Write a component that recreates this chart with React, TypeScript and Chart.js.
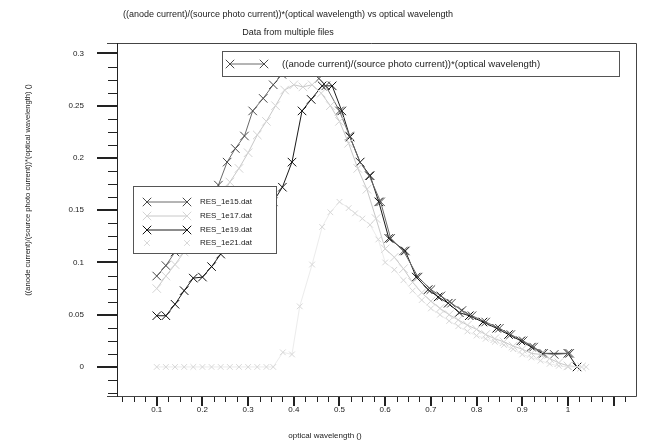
import React, { useEffect, useRef } from "react";
import { Chart, registerables } from "chart.js";
Chart.register(...registerables);

const TITLE = "((anode current)/(source photo current))*(optical wavelength) vs optical wavelength";
const SUBTITLE = "Data from multiple files";
const X_TITLE = "optical wavelength ()";
const Y_TITLE = "((anode current)/(source photo current))*(optical wavelength) ()";
const TOP_LEGEND = "((anode current)/(source photo current))*(optical wavelength)";
const SERIES_NAMES = ["RES_1e15.dat", "RES_1e17.dat", "RES_1e19.dat", "RES_1e21.dat"];

const X_MIN = 0.013;
const X_MAX = 1.149;
const Y_MIN = -0.0278;
const Y_MAX = 0.31;
const X_TICK_LABELS = [0.1, 0.2, 0.3, 0.4, 0.5, 0.6, 0.7, 0.8, 0.9, 1];
const Y_TICK_LABELS = [0, 0.05, 0.1, 0.15, 0.2, 0.25, 0.3];

const x15 = [0.10,0.12,0.14,0.16,0.18,0.20,0.22,0.235,0.254,0.272,0.292,0.31,0.333,0.355,0.374,0.395,0.415,0.435,0.455,0.47,0.5,0.522,0.545,0.565,0.59,0.612,0.64,0.672,0.70,0.722,0.745,0.768,0.79,0.82,0.85,0.875,0.902,0.925,0.947,0.97,1.004];
const y15 = [0.087,0.097,0.11,0.124,0.138,0.151,0.163,0.174,0.196,0.209,0.221,0.245,0.257,0.27,0.28,0.286,0.288,0.284,0.276,0.269,0.245,0.221,0.196,0.183,0.158,0.123,0.111,0.086,0.074,0.068,0.061,0.054,0.049,0.043,0.037,0.031,0.025,0.019,0.013,0.012,0.013];

const x17 = [0.10,0.12,0.14,0.16,0.18,0.20,0.22,0.24,0.26,0.28,0.30,0.32,0.34,0.36,0.38,0.40,0.42,0.44,0.46,0.48,0.50,0.52,0.54,0.56,0.58,0.60,0.62,0.64,0.66,0.68,0.70,0.72,0.74,0.76,0.78,0.80,0.82,0.84,0.86,0.88,0.90,0.92,0.94,0.96,0.98,1.00,1.03];
const y17 = [0.075,0.087,0.098,0.11,0.122,0.135,0.148,0.162,0.177,0.19,0.205,0.222,0.235,0.25,0.265,0.27,0.268,0.27,0.262,0.25,0.235,0.214,0.19,0.17,0.142,0.113,0.105,0.094,0.081,0.071,0.063,0.056,0.05,0.045,0.04,0.036,0.031,0.027,0.024,0.02,0.017,0.013,0.012,0.008,0.004,0.001,0.0];

const x19 = [0.10,0.12,0.14,0.16,0.18,0.20,0.22,0.24,0.26,0.28,0.30,0.32,0.34,0.355,0.375,0.396,0.418,0.438,0.462,0.484,0.505,0.523,0.545,0.567,0.586,0.608,0.644,0.668,0.694,0.716,0.738,0.762,0.784,0.814,0.844,0.87,0.897,0.92,0.943,1.0,1.02];
const y19 = [0.049,0.049,0.06,0.073,0.085,0.086,0.096,0.108,0.118,0.128,0.137,0.146,0.152,0.158,0.172,0.196,0.245,0.256,0.269,0.269,0.245,0.22,0.196,0.183,0.158,0.123,0.111,0.086,0.074,0.067,0.061,0.052,0.049,0.043,0.037,0.031,0.025,0.019,0.013,0.013,0.0];

const x21 = [0.10,0.12,0.14,0.16,0.18,0.20,0.22,0.24,0.26,0.28,0.30,0.32,0.34,0.355,0.376,0.396,0.413,0.44,0.462,0.48,0.50,0.52,0.534,0.55,0.567,0.585,0.60,0.62,0.64,0.66,0.68,0.70,0.72,0.74,0.76,0.78,0.80,0.82,0.84,0.86,0.88,0.90,0.92,0.94,0.96,0.98,1.00,1.04];
const y21 = [0,0,0,0,0,0,0,0,0,0,0,0,0,0.0,0.014,0.012,0.058,0.098,0.134,0.148,0.158,0.152,0.147,0.142,0.136,0.122,0.1,0.093,0.083,0.073,0.064,0.056,0.05,0.044,0.039,0.034,0.03,0.027,0.024,0.021,0.017,0.012,0.009,0.006,0.003,0.001,0.0,0.0];

const FONT = '"Liberation Sans", Arial, sans-serif';

const STYLES = [
  { line: "#6a6a6a", point: "#4a4a4a", radius: 6, lw: 1 },
  { line: "#c8c8c8", point: "#d4d4d4", radius: 6, lw: 1 },
  { line: "#1a1a1a", point: "#111111", radius: 6, lw: 1 },
  { line: "#ececec", point: "#d8d8d8", radius: 4, lw: 1 },
];

function pts(xs: number[], ys: number[]) {
  return xs.map((x, i) => ({ x, y: ys[i] }));
}

function drawX(ctx: CanvasRenderingContext2D, x: number, y: number, r: number, color: string) {
  const d = r * Math.SQRT1_2;
  ctx.strokeStyle = color;
  ctx.lineWidth = 1;
  ctx.beginPath();
  ctx.moveTo(x - d, y - d);
  ctx.lineTo(x + d, y + d);
  ctx.moveTo(x - d, y + d);
  ctx.lineTo(x + d, y - d);
  ctx.stroke();
}

const decor = {
  id: "decor",
  beforeDraw(chart: any) {
    const ctx = chart.ctx;
    ctx.save();
    ctx.fillStyle = "#fff";
    ctx.fillRect(0, 0, chart.width, chart.height);
    ctx.restore();
  },
  afterDatasetsDraw(chart: any) {
    const ctx: CanvasRenderingContext2D = chart.ctx;
    const { left, right, top, bottom } = chart.chartArea;
    const xs = chart.scales.x;
    const ys = chart.scales.y;
    ctx.save();

    // box
    ctx.strokeStyle = "#444";
    ctx.lineWidth = 1;
    ctx.beginPath();
    ctx.moveTo(left - 10, top + 0.5);
    ctx.lineTo(right + 0.5, top + 0.5);
    ctx.lineTo(right + 0.5, bottom + 0.5);
    ctx.lineTo(left - 10, bottom + 0.5);
    ctx.stroke();
    ctx.strokeStyle = "#222";
    ctx.beginPath();
    ctx.moveTo(left + 0.5, top);
    ctx.lineTo(left + 0.5, bottom + 1);
    ctx.stroke();

    // y ticks
    ctx.strokeStyle = "#222";
    for (let k = -2; k <= 25; k++) {
      const v = k * 0.0125;
      if (v < Y_MIN || v > Y_MAX) continue;
      const py = Math.round(ys.getPixelForValue(v));
      const major = k % 4 === 0;
      ctx.lineWidth = major ? 2 : 1;
      ctx.beginPath();
      ctx.moveTo(left - (major ? 20 : 9), py + (major ? 0 : 0.5));
      ctx.lineTo(left, py + (major ? 0 : 0.5));
      ctx.stroke();
    }
    ctx.fillStyle = "#222";
    ctx.font = "8px " + FONT;
    ctx.textAlign = "right";
    ctx.textBaseline = "middle";
    Y_TICK_LABELS.forEach((v) => {
      ctx.fillText(String(v), left - 33, ys.getPixelForValue(v));
    });

    // x ticks
    for (let k = 1; k <= 46; k++) {
      const v = k * 0.025;
      if (v < X_MIN || v > X_MAX) continue;
      const px = Math.round(xs.getPixelForValue(v));
      const major = k % 4 === 0;
      ctx.lineWidth = major ? 2 : 1;
      ctx.beginPath();
      ctx.moveTo(px + (major ? 0 : 0.5), bottom + 1);
      ctx.lineTo(px + (major ? 0 : 0.5), bottom + (major ? 10 : 6));
      ctx.stroke();
    }
    ctx.textAlign = "center";
    ctx.textBaseline = "middle";
    X_TICK_LABELS.forEach((v) => {
      ctx.fillText(String(v), xs.getPixelForValue(v), 410);
    });

    // titles
    ctx.fillStyle = "#222";
    ctx.font = "9px " + FONT;
    ctx.fillText(TITLE, 288, 15);
    ctx.fillText(SUBTITLE, 288, 33);
    ctx.font = "8px " + FONT;
    ctx.fillText(X_TITLE, 325, 436);
    ctx.save();
    ctx.translate(28, 190);
    ctx.rotate(-Math.PI / 2);
    ctx.font = "7.6px " + FONT;
    ctx.fillText(Y_TITLE, 0, 0);
    ctx.restore();

    // top legend
    ctx.fillStyle = "#fff";
    ctx.fillRect(222, 51, 397, 25);
    ctx.strokeStyle = "#555";
    ctx.lineWidth = 1;
    ctx.strokeRect(222.5, 51.5, 397, 25);
    ctx.strokeStyle = STYLES[0].line;
    ctx.beginPath();
    ctx.moveTo(230, 64);
    ctx.lineTo(264, 64);
    ctx.stroke();
    drawX(ctx, 230, 64, STYLES[0].radius, STYLES[0].point);
    drawX(ctx, 264, 64, STYLES[0].radius, STYLES[0].point);
    ctx.fillStyle = "#222";
    ctx.textAlign = "left";
    ctx.font = "9.6px " + FONT;
    ctx.fillText(TOP_LEGEND, 282, 64);

    // series legend
    ctx.font = "8px " + FONT;
    ctx.fillStyle = "#fff";
    ctx.fillRect(133, 186, 143, 67);
    ctx.strokeStyle = "#555";
    ctx.strokeRect(133.5, 186.5, 143, 67);
    const rows = [202, 216, 230, 243];
    SERIES_NAMES.forEach((name, i) => {
      const st = STYLES[i];
      const yy = rows[i];
      if (i !== 3) {
        ctx.strokeStyle = st.line;
        ctx.beginPath();
        ctx.moveTo(147, yy);
        ctx.lineTo(187, yy);
        ctx.stroke();
      }
      drawX(ctx, 147, yy, st.radius, st.point);
      drawX(ctx, 187, yy, st.radius, st.point);
      ctx.fillStyle = "#222";
      ctx.fillText(name, 200, yy);
    });

    ctx.restore();
  },
};

export default function App() {
  const ref = useRef<HTMLCanvasElement>(null);
  useEffect(() => {
    document.body.style.margin = "0";
    const canvas = ref.current!;
    const sets = [
      pts(x15, y15),
      pts(x17, y17),
      pts(x19, y19),
      pts(x21, y21),
    ];
    const order = [3, 1, 0, 2];
    const chart = new Chart(canvas, {
      type: "line",
      data: {
        datasets: order.map((i) => ({
          label: SERIES_NAMES[i],
          data: sets[i],
          borderColor: STYLES[i].line,
          borderWidth: STYLES[i].lw,
          pointStyle: "crossRot",
          pointRadius: STYLES[i].radius,
          pointBorderColor: STYLES[i].point,
          pointBorderWidth: 1,
          pointBackgroundColor: STYLES[i].point,
          tension: 0,
          fill: false,
        })),
      },
      options: {
        animation: false,
        responsive: false,
        events: [],
        layout: { padding: { left: 117, right: 9, top: 43, bottom: 49 } },
        scales: {
          x: { type: "linear", min: X_MIN, max: X_MAX, display: false },
          y: { type: "linear", min: Y_MIN, max: Y_MAX, display: false },
        },
        plugins: {
          legend: { display: false },
          tooltip: { enabled: false },
          title: { display: false },
        },
      },
      plugins: [decor],
    });
    return () => chart.destroy();
  }, []);
  return <canvas ref={ref} width={645} height={445} style={{ display: "block" }} />;
}
